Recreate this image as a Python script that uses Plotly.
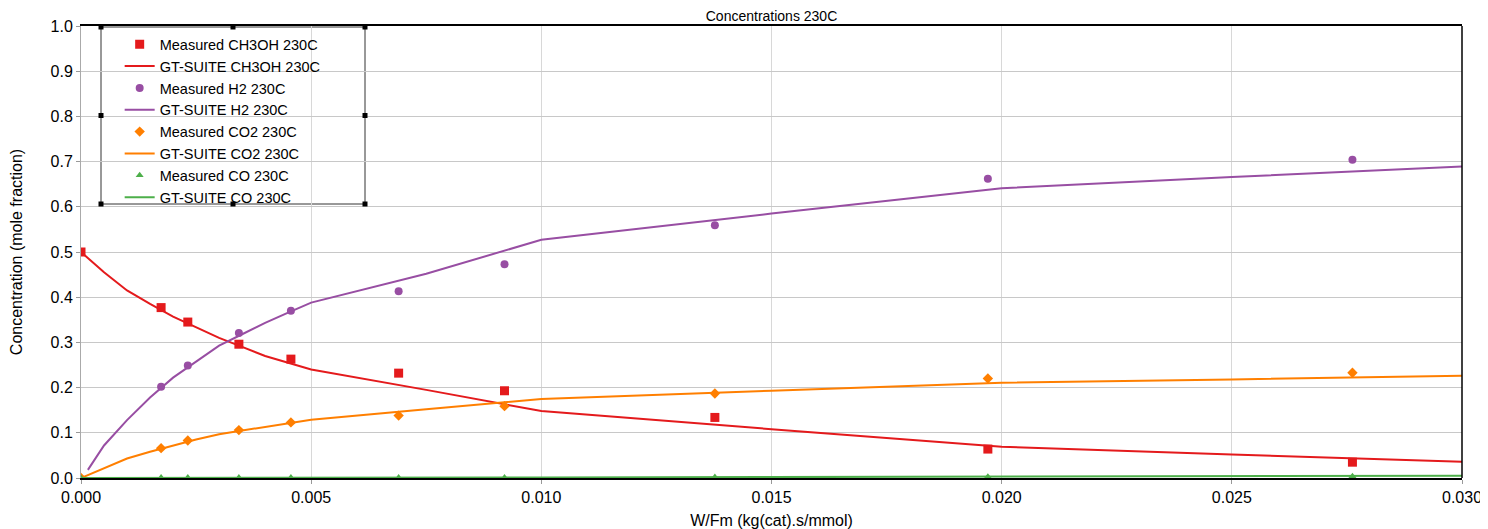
import plotly.graph_objects as go

# measured points
wfm_meas = [0.0, 0.00174, 0.00232, 0.00343, 0.00456, 0.0069, 0.0092, 0.01377, 0.0197, 0.02762]
ch3oh_meas = [0.500, 0.377, 0.345, 0.296, 0.263, 0.232, 0.193, 0.134, 0.064, 0.035]
h2_meas = [None, 0.202, 0.249, 0.321, 0.370, 0.413, 0.473, 0.559, 0.662, 0.704]
co2_meas = [0.0, 0.066, 0.083, 0.106, 0.123, 0.138, 0.159, 0.187, 0.220, 0.233]
co_meas = [0.0, 0.001, 0.001, 0.001, 0.001, 0.001, 0.001, 0.002, 0.003, 0.004]

# GT-SUITE model curves
wfm_sim = [0.0, 0.0005, 0.001, 0.0015, 0.002, 0.0025, 0.003, 0.0035, 0.004, 0.0045,
           0.005, 0.0075, 0.010, 0.015, 0.020, 0.025, 0.030]
ch3oh_sim = [0.500, 0.455, 0.415, 0.385, 0.357, 0.334, 0.310, 0.290, 0.270, 0.255,
             0.240, 0.195, 0.148, 0.108, 0.069, 0.052, 0.036]
h2_sim = [0.018, 0.072, 0.128, 0.178, 0.222, 0.258, 0.293, 0.318, 0.343, 0.366,
          0.388, 0.452, 0.527, 0.585, 0.641, 0.666, 0.689]
co2_sim = [0.0, 0.022, 0.043, 0.058, 0.072, 0.085, 0.097, 0.105, 0.114, 0.122,
           0.129, 0.152, 0.175, 0.193, 0.211, 0.218, 0.226]
co_sim = [0.0, 0.0, 0.0, 0.0, 0.0, 0.0, 0.0005, 0.0005, 0.0005, 0.0005,
          0.001, 0.001, 0.001, 0.002, 0.003, 0.004, 0.005]
# first model point for H2 sits just off zero
h2_x = [0.00015] + wfm_sim[1:]

RED = "#e41a1c"
PURPLE = "#984ea3"
ORANGE = "#ff7f00"
GREEN = "#4daf4a"

fig = go.Figure()


def add_pair(name, color, symbol, size, ym, xs, ys):
    fig.add_trace(go.Scatter(x=wfm_meas, y=ym, mode="markers", name="Measured " + name,
                             marker=dict(color=color, symbol=symbol, size=size)))
    fig.add_trace(go.Scatter(x=xs, y=ys, mode="lines", name="GT-SUITE " + name,
                             line=dict(color=color, width=2)))


add_pair("CH3OH 230C", RED, "square", 9, ch3oh_meas, wfm_sim, ch3oh_sim)
add_pair("H2 230C", PURPLE, "circle", 8, h2_meas, h2_x, h2_sim)
add_pair("CO2 230C", ORANGE, "diamond", 8, co2_meas, wfm_sim, co2_sim)
add_pair("CO 230C", GREEN, "triangle-up", 7, co_meas, wfm_sim, co_sim)

# legend frame with selection handles (plot area is 1381 x 452 px)
lx0, lx1 = (101 - 81) / 1381, (365 - 81) / 1381
ly0, ly1 = (478 - 204) / 452, (478 - 27) / 452
shapes = [
    dict(type="rect", xref="paper", yref="paper", x0=lx0, x1=lx1, y0=ly0, y1=ly1,
         line=dict(color="#333333", width=1), fillcolor="white", layer="below"),
    dict(type="line", xref="paper", yref="paper", x0=1, x1=1, y0=0, y1=1,
         line=dict(color="black", width=1.5)),
]
hw, hh = 2.5 / 1381, 2.5 / 452
for hx in (lx0, (lx0 + lx1) / 2, lx1):
    for hy in (ly0, (ly0 + ly1) / 2, ly1):
        if hx == (lx0 + lx1) / 2 and hy == (ly0 + ly1) / 2:
            continue
        shapes.append(dict(type="rect", xref="paper", yref="paper",
                           x0=hx - hw, x1=hx + hw, y0=hy - hh, y1=hy + hh,
                           line=dict(width=0), fillcolor="black"))

# page body has an 8px margin, so the figure is shrunk by that amount
fig.update_layout(
    width=1480, height=521,
    margin=dict(l=73, r=26, t=18, b=51),
    paper_bgcolor="white", plot_bgcolor="white",
    font=dict(family="Liberation Sans, Arial", size=16, color="black"),
    title=dict(text="Concentrations 230C", x=(73 + 1454) / 2 / 1480, xanchor="center",
               yref="container", y=1.0, yanchor="top", pad=dict(t=3),
               font=dict(size=14)),
    legend=dict(x=0.028, y=0.995, xanchor="left", yanchor="top",
                bgcolor="rgba(0,0,0,0)", borderwidth=0,
                font=dict(size=14.5), tracegroupgap=0),
    shapes=shapes,
    xaxis=dict(title=dict(text="W/Fm (kg(cat).s/mmol)", standoff=10, font=dict(size=16)),
               range=[0, 0.030], dtick=0.005, tickformat=".3f",
               showgrid=True, gridcolor="#d8d8d8", gridwidth=1,
               showline=True, linecolor="black", linewidth=1.5, mirror=True,
               ticks="outside", ticklen=4, tickcolor="#999999", zeroline=False,
               automargin=False),
    yaxis=dict(title=dict(text="Concentration (mole fraction)", standoff=26, font=dict(size=16)),
               range=[0, 1.0], dtick=0.1, tickformat=".1f",
               showgrid=True, gridcolor="#c8c8c8", gridwidth=1,
               showline=True, linecolor="#aaaaaa", linewidth=1,
               ticks="outside", ticklen=4, tickcolor="#999999", zeroline=False,
               automargin=False),
)

fig.write_html("out.html")
